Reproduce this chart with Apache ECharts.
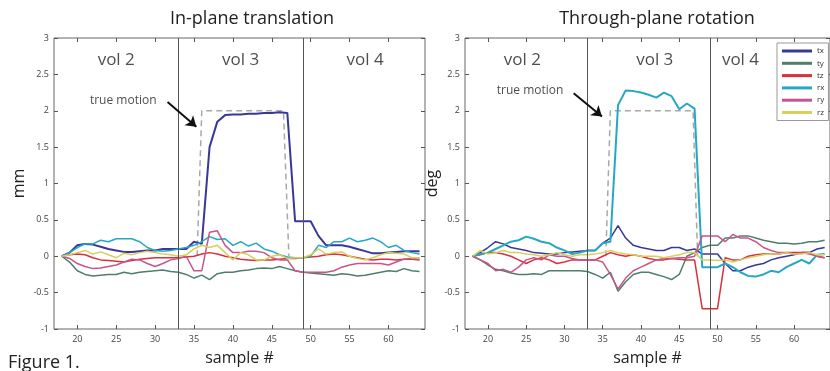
<!DOCTYPE html>
<html>
<head>
<meta charset="utf-8">
<script src="https://cdn.jsdelivr.net/npm/echarts@6/dist/echarts.min.js"></script>
<style>
  html, body { margin: 0; padding: 0; background: #fff; }
  #chart { width: 830px; height: 371px; }
</style>
</head>
<body>
<div id="chart"></div>
<script>
// sample numbers
const samples = [18,19,20,21,22,23,24,25,26,27,28,29,30,31,32,33,34,35,36,37,38,39,40,41,42,43,44,45,46,47,48,49,50,51,52,53,54,55,56,57,58,59,60,61,62,63,64];

// In-plane translation (mm)
const txL = [0,0.05,0.15,0.17,0.16,0.13,0.10,0.08,0.06,0.06,0.07,0.08,0.08,0.10,0.10,0.10,0.10,0.20,0.17,1.50,1.85,1.94,1.95,1.95,1.96,1.96,1.97,1.97,1.98,1.97,0.48,0.48,0.48,0.28,0.15,0.15,0.15,0.13,0.10,0.07,0.04,0.04,0.05,0.06,0.07,0.07,0.07];
const tyL = [0,-0.08,-0.20,-0.25,-0.27,-0.26,-0.25,-0.25,-0.22,-0.24,-0.22,-0.21,-0.20,-0.19,-0.21,-0.22,-0.25,-0.30,-0.26,-0.32,-0.24,-0.22,-0.22,-0.20,-0.19,-0.17,-0.16,-0.17,-0.14,-0.17,-0.20,-0.22,-0.23,-0.24,-0.25,-0.26,-0.24,-0.25,-0.27,-0.26,-0.24,-0.22,-0.20,-0.21,-0.17,-0.20,-0.21];
const tzL = [0,0.02,0.03,0.02,-0.02,-0.05,-0.06,-0.07,-0.08,-0.06,-0.04,-0.03,-0.02,-0.02,-0.02,-0.02,-0.01,0,0.03,0.05,0.03,0,-0.02,-0.04,-0.05,-0.06,-0.05,-0.05,-0.04,-0.03,-0.03,-0.02,-0.01,0,0.02,0.03,0.02,0,-0.02,-0.04,-0.05,-0.04,-0.04,-0.05,-0.04,-0.04,-0.05];
const rxL = [0,0.05,0.12,0.17,0.17,0.22,0.20,0.24,0.24,0.24,0.20,0.12,0.08,0.07,0.08,0.10,0.12,0.15,0.20,0.27,0.23,0.24,0.15,0.20,0.14,0.18,0.10,0.07,0.02,-0.01,-0.02,-0.02,0,0.15,0.12,0.20,0.20,0.25,0.20,0.22,0.25,0.20,0.12,0.15,0.08,0.05,0.03];
const ryL = [0,-0.03,-0.10,-0.14,-0.17,-0.16,-0.14,-0.12,-0.08,-0.04,-0.05,-0.10,-0.14,-0.10,-0.05,-0.03,0,-0.20,-0.20,0.33,0.35,0.15,0.05,0.05,0.07,0.07,0.05,-0.02,-0.05,-0.05,-0.20,-0.22,-0.22,-0.22,-0.22,-0.20,-0.15,-0.12,-0.10,-0.10,-0.10,-0.10,-0.12,-0.08,-0.04,-0.03,-0.04];
const rzL = [0,0.02,0.05,0.08,0.03,0.06,0.02,-0.02,0.04,0.02,0.05,0.07,0.05,0.03,0.02,0,0.02,0.10,0.15,0.12,0.15,0.05,-0.05,0.05,0.02,-0.05,-0.05,0,0.02,-0.03,-0.02,-0.02,0.02,0.10,0.03,0.05,0.06,0,-0.03,-0.05,-0.02,0.02,0.05,0.04,0.03,-0.02,-0.02];

// Through-plane rotation (deg)
const txR = [0,0.05,0.12,0.20,0.17,0.12,0.10,0.08,0.05,0.04,0.03,0.03,0.05,0.06,0.07,0.08,0.08,0.18,0.25,0.42,0.25,0.15,0.12,0.10,0.08,0.08,0.12,0.12,0.08,0.10,0.03,0.03,0.03,-0.10,-0.20,-0.20,-0.15,-0.12,-0.10,-0.05,-0.02,0,0.02,0.05,0.05,0.10,0.12];
const tyR = [0,-0.05,-0.12,-0.18,-0.20,-0.23,-0.25,-0.25,-0.24,-0.25,-0.20,-0.20,-0.20,-0.20,-0.20,-0.21,-0.25,-0.30,-0.22,-0.48,-0.35,-0.25,-0.22,-0.22,-0.25,-0.28,-0.32,-0.25,0,0.05,0.12,0.15,0.15,0.25,0.25,0.28,0.28,0.25,0.22,0.20,0.18,0.18,0.17,0.18,0.20,0.20,0.22];
const tzR = [0,0.02,0.05,0.05,0.03,0,-0.05,-0.10,-0.05,-0.02,-0.05,-0.10,-0.08,-0.05,-0.05,-0.05,-0.05,0,0.05,0.02,0,0.02,0,-0.03,-0.05,-0.05,-0.03,-0.04,-0.05,-0.05,-0.72,-0.72,-0.72,-0.02,-0.05,-0.05,0,0.02,0.03,0.03,0.03,0.05,0.05,0.05,0.05,0,-0.02];
const rxR = [0,0.03,0.05,0.10,0.15,0.20,0.22,0.27,0.24,0.20,0.18,0.12,0.08,0.03,0.05,0.08,0.08,0.18,0.20,2.08,2.28,2.27,2.25,2.22,2.18,2.25,2.20,2.02,2.10,2.03,-0.15,-0.15,-0.15,-0.10,-0.15,-0.22,-0.27,-0.28,-0.25,-0.20,-0.22,-0.15,-0.10,-0.05,-0.10,0.02,0.03];
const ryR = [0,-0.05,-0.10,-0.20,-0.18,-0.22,-0.15,-0.05,-0.02,-0.05,0.02,0,0,-0.03,-0.05,-0.05,-0.05,-0.08,-0.25,-0.45,-0.30,-0.20,-0.15,-0.10,-0.05,-0.03,-0.03,-0.02,-0.02,0,0.28,0.28,0.28,0.20,0.30,0.25,0.25,0.20,0.12,0.08,0.05,0.05,0.03,0.05,0.03,0,-0.02];
const rzR = [0,0.08,0.03,0.05,0.08,0.05,0.05,0.03,0.02,0,0.02,0.05,0.02,0,0.02,0.02,0.03,0.05,0.08,0.05,0.03,0.02,0,0,0,-0.02,0,0.02,0.05,0.05,-0.05,-0.05,-0.06,-0.05,-0.08,-0.05,-0.02,0,0.02,0.03,0.03,0.05,0.03,0.03,0.05,0.02,0.02];

// true motion step (sample, value)
const trueMotionL = [[35.4, 0], [36, 2], [46.5, 2], [47.2, 0]];
const trueMotionR = [[35.4, 0], [36, 2], [46.8, 2], [47.4, 0]];

const volBounds = [33, 49];
const xTicks = [20, 25, 30, 35, 40, 45, 50, 55, 60];
const names = ['tx', 'ty', 'tz', 'rx', 'ry', 'rz'];
const colors = ['#38389a', '#4f7f68', '#d8303c', '#27a8c2', '#c8548c', '#d8cf5c'];

const volLabelsL = [[25, 2.7, 'vol 2'], [41, 2.7, 'vol 3'], [57, 2.7, 'vol 4']];
const volLabelsR = [[24.5, 2.7, 'vol 2'], [41.8, 2.7, 'vol 3'], [53, 2.7, 'vol 4']];
const noteL = [25.9, 2.14];
const noteR = [25.5, 2.28];
const arrowL = [[31.6, 2.12], [35.3, 1.78]];
const arrowR = [[31.2, 2.24], [34.9, 1.92]];

const font = '"Open Sans", "DejaVu Sans", sans-serif';
const X_MIN = 17, X_MAX = 64.7;

const chart = echarts.init(document.getElementById('chart'));

const xAxisFor = (gi, top) => ({
  type: 'value', gridIndex: gi, min: X_MIN, max: X_MAX,
  position: top ? 'top' : 'bottom',
  name: top ? '' : 'sample #',
  nameLocation: 'middle', nameGap: 21,
  nameTextStyle: { fontFamily: font, fontSize: 16, color: '#222' },
  axisLine: { show: false, onZero: false },
  axisTick: { show: true, inside: true, length: 4, customValues: xTicks, lineStyle: { color: '#555' } },
  axisLabel: { show: !top, customValues: xTicks, fontFamily: font, fontSize: 9, color: '#444', margin: 6 },
  splitLine: { show: false },
});

const yAxisFor = (gi, right, name, gap) => ({
  type: 'value', gridIndex: gi, min: -1, max: 3, interval: 0.5,
  position: right ? 'right' : 'left',
  name: right ? '' : name,
  nameLocation: 'middle', nameGap: gap,
  nameTextStyle: { fontFamily: font, fontSize: 16, color: '#222' },
  axisLine: { show: false, onZero: false },
  axisTick: { show: true, inside: true, length: 4, lineStyle: { color: '#555' } },
  axisLabel: { show: !right, fontFamily: font, fontSize: 9, color: '#444', margin: 5, formatter: v => String(v) },
  splitLine: { show: false },
});

const lineSeries = (name, vals, axis, color, width) => ({
  type: 'line', name, xAxisIndex: axis, yAxisIndex: axis,
  data: samples.map((s, i) => [s, vals[i]]),
  showSymbol: false, symbol: 'none', silent: true,
  lineStyle: { color, width }, itemStyle: { color },
  z: 3,
});

const panelExtras = (axis, motion, vols, note, arrow) => [
  {
    type: 'line', name: 'true motion', xAxisIndex: axis, yAxisIndex: axis,
    data: motion, showSymbol: false, symbol: 'none', silent: true,
    lineStyle: { color: '#a8a8a8', width: 1.5, type: [6, 4] }, z: 2,
    markLine: {
      silent: true, symbol: 'none', label: { show: false },
      lineStyle: { color: '#555', width: 1, type: 'solid' },
      data: volBounds.map(v => ({ xAxis: v })),
    },
  },
  {
    type: 'scatter', xAxisIndex: axis, yAxisIndex: axis, symbolSize: 0, silent: true,
    data: vols.map(v => ({ value: [v[0], v[1]], label: { formatter: v[2] } }))
      .concat([{ value: note, label: { formatter: 'true motion', fontSize: 12 } }]),
    label: { show: true, position: 'inside', fontFamily: font, fontSize: 17, color: '#222' },
    markLine: {
      silent: true, label: { show: false }, symbol: ['none', 'arrow'], symbolSize: 10,
      lineStyle: { color: '#111', width: 2, type: 'solid' },
      itemStyle: { color: '#111' },
      data: [[{ coord: arrow[0] }, { coord: arrow[1] }]],
    },
  },
];

const series = [];
const left = [txL, tyL, tzL, rxL, ryL, rzL];
const right = [txR, tyR, tzR, rxR, ryR, rzR];
series.push(...panelExtras(0, trueMotionL, volLabelsL, noteL, arrowL));
left.forEach((vals, i) => series.push(lineSeries(names[i], vals, 0, colors[i], i === 0 ? 2 : 1.5)));
series.push(...panelExtras(2, trueMotionR, volLabelsR, noteR, arrowR));
right.forEach((vals, i) => series.push(lineSeries(names[i], vals, 2, colors[i], i === 3 ? 2 : 1.5)));

chart.setOption({
  animation: false,
  backgroundColor: '#fff',
  title: [
    { text: 'In-plane translation', left: 247, top: 5, textAlign: 'center',
      textStyle: { fontFamily: font, fontSize: 18, fontWeight: 'normal', color: '#222' } },
    { text: 'Through-plane rotation', left: 652, top: 5, textAlign: 'center',
      textStyle: { fontFamily: font, fontSize: 18, fontWeight: 'normal', color: '#222' } },
  ],
  legend: {
    data: names, orient: 'vertical', left: 777, top: 43,
    icon: 'rect', itemWidth: 30, itemHeight: 3, itemGap: 4.3,
    padding: [4, 4, 4, 5], backgroundColor: '#fff', borderColor: '#999', borderWidth: 1, borderRadius: 0,
    textStyle: { fontFamily: font, fontSize: 8, color: '#333', lineHeight: 8 },
    selectedMode: false, z: 10,
  },
  grid: [
    { left: 54, top: 38, width: 371, height: 291, show: true, borderColor: '#666', borderWidth: 1, backgroundColor: 'transparent' },
    { left: 465, top: 38, width: 374, height: 291, show: true, borderColor: '#666', borderWidth: 1, backgroundColor: 'transparent' },
  ],
  xAxis: [xAxisFor(0, false), xAxisFor(0, true), xAxisFor(1, false), xAxisFor(1, true)],
  yAxis: [yAxisFor(0, false, 'mm', 27), yAxisFor(0, true), yAxisFor(1, false, 'deg', 22), yAxisFor(1, true)],
  graphic: [
    { type: 'text', left: 8, top: 354, style: { text: 'Figure 1.', font: '18px ' + font, fill: '#222' } },
  ],
  series,
});
</script>
</body>
</html>
